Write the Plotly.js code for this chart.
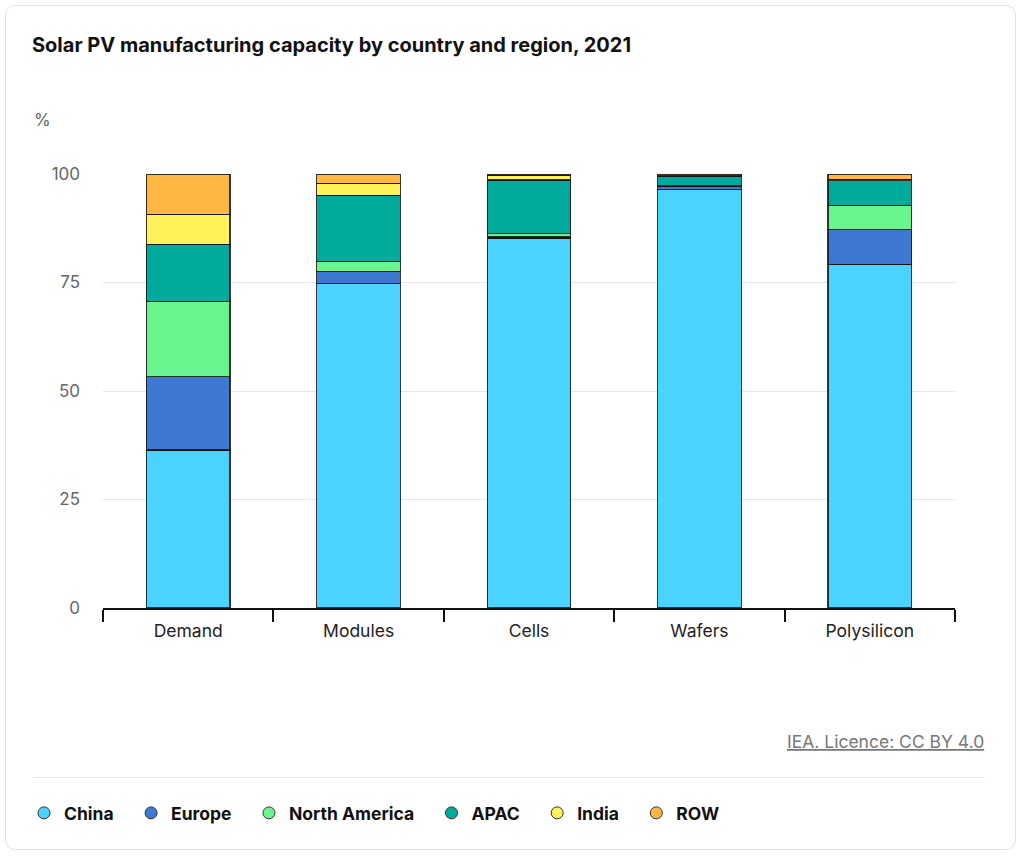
<!DOCTYPE html>
<html>
<head>
<meta charset="utf-8">
<script src="https://cdn.plot.ly/plotly-3.0.1.min.js"></script>
<style>
html,body{margin:0;padding:0;background:#fff;}
#card{position:absolute;left:5px;top:5px;width:1009px;height:843px;border:1px solid #e2e2e2;border-radius:10px;}
#sep{position:absolute;left:33px;top:777px;width:952px;height:1px;background:#e6e6e6;}
#chart{position:absolute;left:0;top:0;width:1022px;height:856px;}
</style>
</head>
<body>
<div id="card"></div>
<div id="sep"></div>
<div id="chart"></div>
<script>
const categories = ["Demand", "Modules", "Cells", "Wafers", "Polysilicon"];
const seriesNames = ["China", "Europe", "North America", "APAC", "India", "ROW"];
const china        = [36.4, 74.8, 85.2, 96.5, 79.2];
const europe       = [16.9, 2.8, 0.3, 0.7, 8.1];
const northAmerica = [17.4, 2.3, 0.7, 0.1, 5.5];
const apac         = [13.1, 15.2, 12.4, 2.2, 5.7];
const india        = [6.9, 2.8, 1.1, 0.1, 0.3];
const row          = [9.3, 2.1, 0.3, 0.4, 1.2];
const yTicks = [0, 25, 50, 75, 100];

const values = [china, europe, northAmerica, apac, india, row];
const colors = ["#4AD3FF", "#3D78D2", "#69F48F", "#00AA9C", "#FFF15A", "#FFB643"];
const pad = "&nbsp;&nbsp;&nbsp;";

const traces = [];
values.forEach((v, i) => {
  traces.push({
    type: "bar", x: categories, y: v, name: seriesNames[i],
    marker: {color: colors[i], line: {color: "rgba(20,20,20,0.85)", width: 1.2}},
    width: 0.49, showlegend: false, hoverinfo: "x+y+name"
  });
});
values.forEach((v, i) => {
  traces.push({
    type: "scatter", mode: "markers", x: [null], y: [null], name: seriesNames[i] + (i < values.length - 1 ? pad : ""),
    marker: {color: colors[i], symbol: "circle", size: 12, line: {color: "#333", width: 1}},
    showlegend: true, hoverinfo: "skip"
  });
});

const layout = {
  width: 1022, height: 856,
  margin: {l: 103, r: 67, t: 174, b: 248},
  paper_bgcolor: "rgba(0,0,0,0)", plot_bgcolor: "rgba(0,0,0,0)",
  barmode: "stack",
  font: {family: "Inter, 'Noto Sans', sans-serif", color: "#222"},
  title: {text: "<b>Solar PV manufacturing capacity by country and region, 2021</b>",
          x: 32/1022, xref: "container", xanchor: "left", y: 1 - 45/856, yref: "container", yanchor: "middle",
          font: {size: 20, color: "#111"}},
  xaxis: {
    type: "category", tickson: "boundaries", ticks: "outside", ticklen: 12, tickwidth: 1.5, tickcolor: "#111",
    showline: true, linecolor: "#111", linewidth: 1.5, showgrid: false,
    tickfont: {size: 17.5, color: "#222"}, ticklabelstandoff: 6, fixedrange: true
  },
  yaxis: {
    range: [0, 100], tickvals: yTicks, ticktext: yTicks.map(String),
    showgrid: true, gridcolor: "#e5e5e5", gridwidth: 1.2, zeroline: false, showline: false,
    ticks: "", tickfont: {size: 17, color: "#666"}, ticklabelstandoff: 22, fixedrange: true
  },
  legend: {orientation: "h", xref: "container", yref: "container", x: 24/1022, xanchor: "left",
           y: 1 - 813/856, yanchor: "middle", font: {size: 17.5, color: "#111", weight: "bold"},
           itemwidth: 30, traceorder: "normal"},
  annotations: [
    {text: "%", xref: "paper", yref: "paper", x: -71/852, xanchor: "left", y: 1 + (174-120)/434, yanchor: "middle",
     showarrow: false, font: {size: 17, color: "#666"}},
    {text: "<u>IEA. Licence: CC BY 4.0</u>", xref: "paper", yref: "paper", x: (986-103)/852, xanchor: "right",
     y: -(741-608)/434, yanchor: "middle", showarrow: false, font: {size: 17.5, color: "#777"}}
  ]
};
Plotly.newPlot("chart", traces, layout, {displayModeBar: false, responsive: false});
</script>
</body>
</html>
